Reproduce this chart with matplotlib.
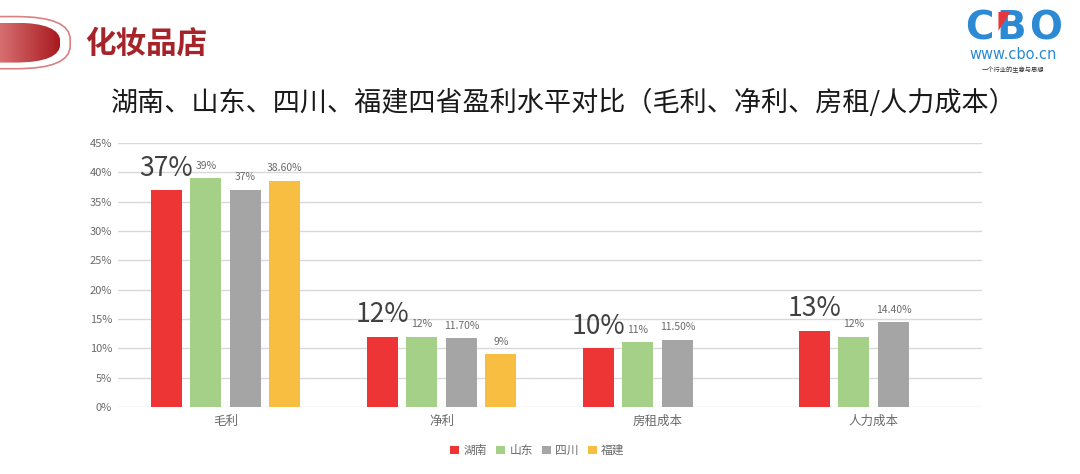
import matplotlib.pyplot as plt
import numpy as np
from matplotlib.patches import FancyBboxPatch, Polygon
from matplotlib.colors import LinearSegmentedColormap

plt.rcParams['font.family'] = ['Noto Sans CJK SC', 'DejaVu Sans']

categories = ['毛利', '净利', '房租成本', '人力成本']
series_names = ['湖南', '山东', '四川', '福建']
hunan = [37, 12, 10, 13]
shandong = [39, 12, 11, 12]
sichuan = [37, 11.7, 11.5, 14.4]
fujian = [38.6, 9, np.nan, np.nan]
hunan_labels = ['37%', '12%', '10%', '13%']
shandong_labels = ['39%', '12%', '11%', '12%']
sichuan_labels = ['37%', '11.70%', '11.50%', '14.40%']
fujian_labels = ['38.60%', '9%', '', '']
yticks = [0, 5, 10, 15, 20, 25, 30, 35, 40, 45]

colors = ['#EE3535', '#A4D087', '#A5A5A5', '#F7BE42']
label_color = '#6A6A6A'

fig = plt.figure(figsize=(10.8, 4.74), dpi=100)
ax = fig.add_axes([0.109, 0.1414, 0.8, 0.557])

x = np.arange(len(categories))
width = 0.1435
step = 0.1829
all_vals = [hunan, shandong, sichuan, fujian]
all_labels = [hunan_labels, shandong_labels, sichuan_labels, fujian_labels]

for i, (vals, labs) in enumerate(zip(all_vals, all_labels)):
    xs = x + (i - 1.5) * step
    ax.bar(xs, vals, width, color=colors[i], label=series_names[i], zorder=3)
    for xx, v, lab in zip(xs, vals, labs):
        if np.isnan(v) or lab == '':
            continue
        if i == 0:
            ax.annotate(lab, (xx, v), xytext=(0, 6), textcoords='offset points',
                        ha='center', va='bottom', fontsize=19, color='#404040')
        else:
            ax.annotate(lab, (xx, v), xytext=(0, 5.5), textcoords='offset points',
                        ha='center', va='bottom', fontsize=7.5, color=label_color)

ax.set_xlim(-0.5, 3.5)
ax.set_ylim(0, 45)
ax.set_yticks(yticks)
ax.set_yticklabels([f'{t}%' for t in yticks], fontsize=8, color=label_color)
ax.set_xticks(x)
ax.set_xticklabels(categories, fontsize=9, color=label_color)
ax.tick_params(length=0, pad=6)
ax.tick_params(axis='y', pad=4)
ax.grid(axis='y', color='#D9D9D9', linewidth=1, zorder=0)
for s in ax.spines.values():
    s.set_visible(False)

ax.legend(loc='upper center', bbox_to_anchor=(0.486, -0.1), ncol=4, frameon=False,
          fontsize=8.5, handlelength=0.7, handleheight=0.7, handletextpad=0.4,
          columnspacing=0.8, labelcolor=label_color)

fig.text(0.522, 0.783, '湖南、山东、四川、福建四省盈利水平对比（毛利、净利、房租/人力成本）',
         ha='center', va='center', fontsize=19.5, color='#1A1A1A')

# header pill with gradient fill
outer = FancyBboxPatch((-0.05, 0.855), 0.115, 0.11, boxstyle='round,pad=0,rounding_size=0.05',
                       transform=fig.transFigure, facecolor='white', edgecolor='#D98080',
                       linewidth=1.2, mutation_aspect=4.74 / 10.8 * 2.2, zorder=0)
inner = FancyBboxPatch((-0.05, 0.868), 0.106, 0.084, boxstyle='round,pad=0,rounding_size=0.042',
                       transform=fig.transFigure, facecolor='none', edgecolor='none',
                       mutation_aspect=4.74 / 10.8 * 2.2)
fig.patches.append(outer)
gax = fig.add_axes([0.0, 0.868, 0.056, 0.084])
gax.set_zorder(2)
gax.axis('off')
grad = np.linspace(0, 1, 64).reshape(1, -1)
cmap = LinearSegmentedColormap.from_list('pill', ['#D66E70', '#A8191E'])
im = gax.imshow(grad, aspect='auto', cmap=cmap, extent=[0, 1, 0, 1])
im.set_clip_path(inner)

fig.text(0.079, 0.908, '化妆品店', ha='left', va='center', fontsize=22,
         fontweight='bold', color='#A5242A')

# logo
for letter, lx in zip(['C', 'B', 'O'], [0.9065, 0.9365, 0.9685]):
    fig.text(lx, 0.94, letter, ha='center', va='center', fontsize=28,
             fontweight='heavy', color='#2C8AD4', family='DejaVu Sans')
tri = Polygon([[0.9245, 0.975], [0.9355, 0.975], [0.9245, 0.935]], closed=True,
              transform=fig.transFigure, facecolor='#E8363A', edgecolor='none', zorder=5)
fig.patches.append(tri)
fig.text(0.938, 0.885, 'www.cbo.cn', ha='center', va='center', fontsize=10.5,
         color='#2C8AD4', family='DejaVu Sans')
fig.text(0.938, 0.852, '一个行业的生意与思想', ha='center', va='center', fontsize=4.5,
         color='#333333')

fig.savefig('out.png', dpi=100)
